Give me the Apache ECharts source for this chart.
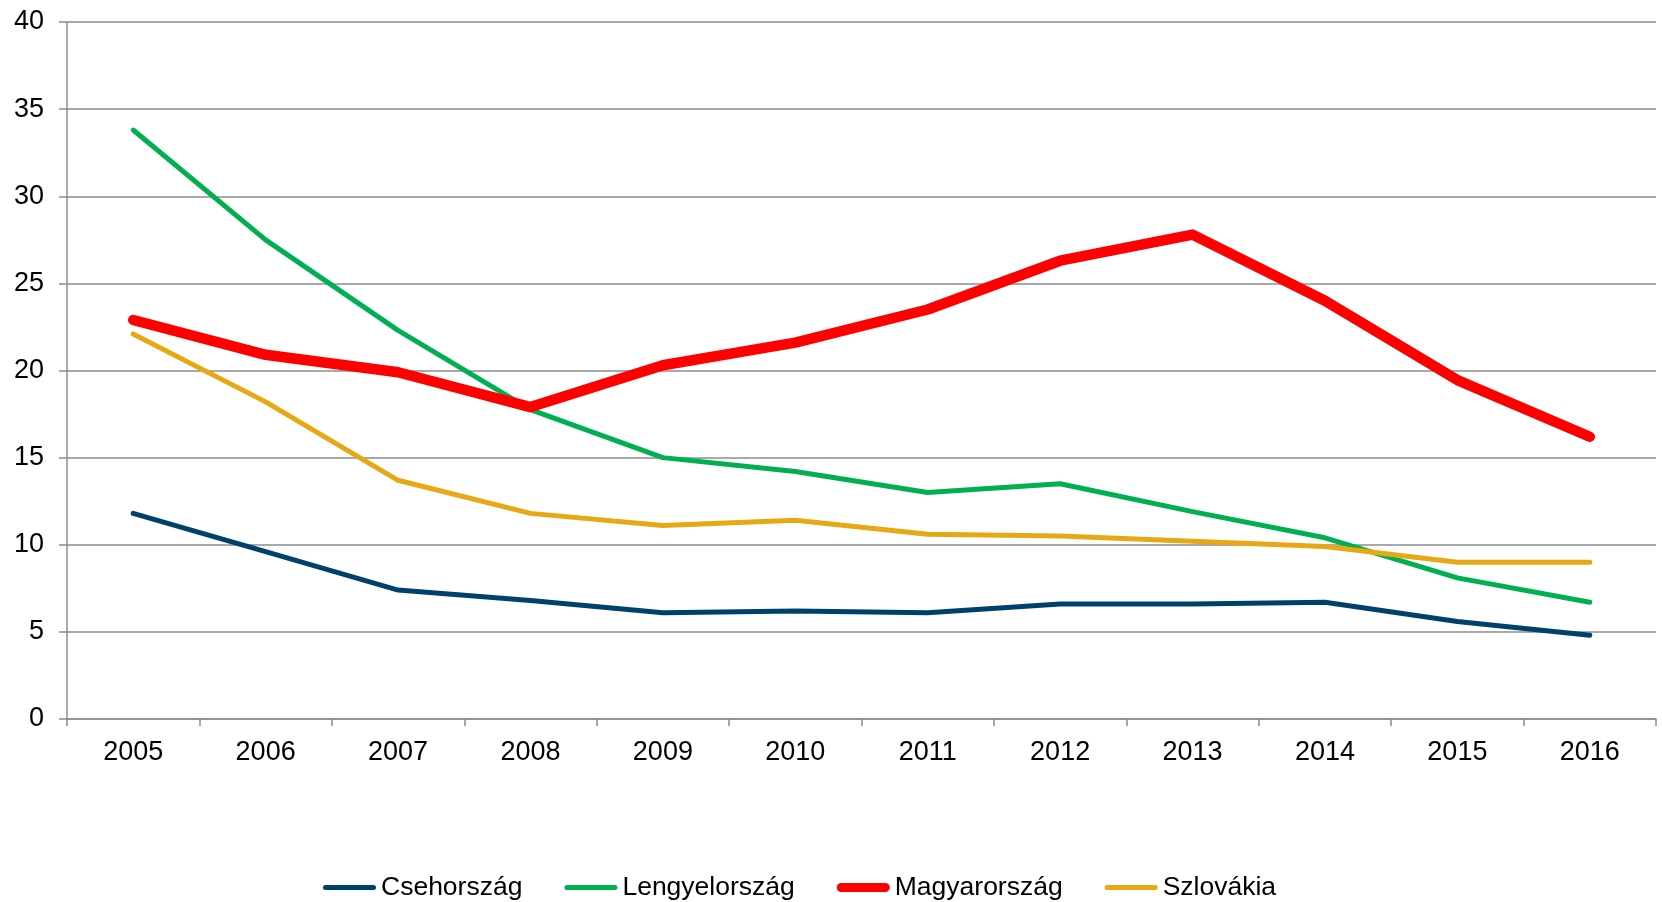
<!DOCTYPE html>
<html lang="hu">
<head>
    <meta charset="utf-8">
    <title>Chart</title>
    <script src="https://cdn.jsdelivr.net/npm/echarts@6/dist/echarts.min.js"></script>
    <style>
        html, body { margin: 0; padding: 0; background: #fff; }
        #chart { width: 1662px; height: 902px; }
    </style>
</head>
<body>
    <div id="chart"></div>
    <script>
        // years on the x axis
        var years = ['2005', '2006', '2007', '2008', '2009', '2010', '2011', '2012', '2013', '2014', '2015', '2016'];

        // values
        var cseh = [11.8, 9.6, 7.4, 6.8, 6.1, 6.2, 6.1, 6.6, 6.6, 6.7, 5.6, 4.8];
        var lengyel = [33.8, 27.5, 22.3, 17.75, 15.0, 14.2, 13.0, 13.5, 11.9, 10.4, 8.1, 6.7];
        var magyar = [22.9, 20.9, 19.9, 17.9, 20.3, 21.6, 23.5, 26.3, 27.8, 24.0, 19.45, 16.2];
        var szlovak = [22.1, 18.2, 13.7, 11.8, 11.1, 11.4, 10.6, 10.5, 10.2, 9.9, 9.0, 9.0];

        var names = ['Csehország', 'Lengyelország', 'Magyarország', 'Szlovákia'];

        var font = '"Liberation Sans", Arial, sans-serif';
        var axisGray = '#8c8c8c';

        // legend icons: rounded bar inside a 53x26 box (the moveTo points keep the box size)
        var thinIcon = 'path://M0,0M53,26M2.5,10.5h48a2.5,2.5 0 0 1 0,5h-48a2.5,2.5 0 0 1 0,-5z';
        var thickIcon = 'path://M0,0M53,26M4.5,8.5h44a4.5,4.5 0 0 1 0,9h-44a4.5,4.5 0 0 1 0,-9z';

        function line(name, data, color, width) {
            return {
                name: name,
                type: 'line',
                data: data,
                showSymbol: false,
                symbol: 'none',
                lineStyle: { color: color, width: width, cap: 'round', join: 'round' },
                itemStyle: { color: color },
                emphasis: { disabled: true },
                z: width > 6 ? 3 : 2
            };
        }

        var myChart = echarts.init(document.getElementById('chart'));
        myChart.setOption({
            animation: false,
            backgroundColor: '#fff',
            grid: { left: 67, right: 6, top: 22, bottom: 183, containLabel: false },
            legend: {
                left: 318,
                top: 869,
                itemWidth: 53,
                itemHeight: 26,
                itemGap: 42,
                textStyle: { fontFamily: font, fontSize: 26.5, color: '#000' },
                data: names.map(function (n, i) {
                    return { name: n, icon: i === 2 ? thickIcon : thinIcon };
                })
            },
            xAxis: {
                type: 'category',
                data: years,
                boundaryGap: true,
                axisLine: { lineStyle: { color: axisGray, width: 1.5 } },
                axisTick: { show: true, length: 7, lineStyle: { color: axisGray, width: 1.5 } },
                axisLabel: { fontFamily: font, fontSize: 27, color: '#000', margin: 20 },
                splitLine: { show: false }
            },
            yAxis: {
                type: 'value',
                min: 0,
                max: 40,
                interval: 5,
                axisLine: { show: true, lineStyle: { color: axisGray, width: 1.5 } },
                axisTick: { show: true, length: 8, lineStyle: { color: axisGray, width: 1.5 } },
                axisLabel: { fontFamily: font, fontSize: 27, color: '#000', margin: 23 },
                splitLine: { show: true, lineStyle: { color: axisGray, width: 1.5 } }
            },
            series: [
                line(names[0], cseh, '#00416b', 5),
                line(names[1], lengyel, '#00b050', 5),
                line(names[2], magyar, '#ff0000', 10.5),
                line(names[3], szlovak, '#e8a813', 5)
            ]
        });
    </script>
</body>
</html>
